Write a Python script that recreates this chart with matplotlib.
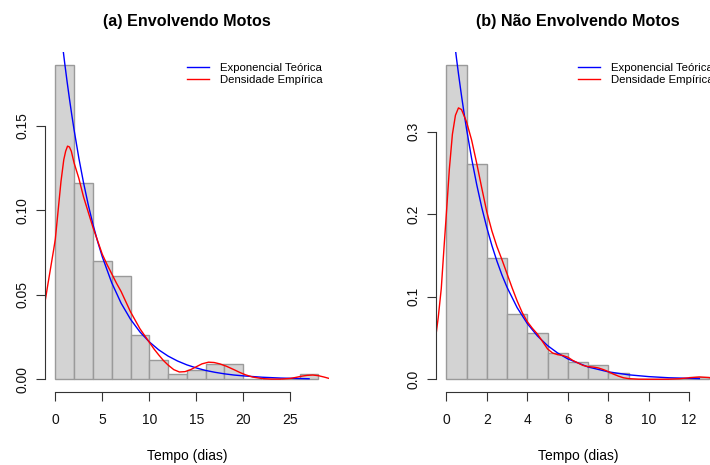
#!/usr/bin/env python3
"""
plot.py
=======

Histogramas do tempo (dias) com a exponencial teorica e a densidade
empirica sobrepostas, em dois paineis no estilo dos graficos base do R.

OUTPUT:
    out.png
"""

import numpy as np
import matplotlib
matplotlib.use('Agg')
import matplotlib.pyplot as plt

plt.rcParams.update({
    'font.family': ['Liberation Sans', 'DejaVu Sans'],
    'font.size': 10,
    'axes.linewidth': 0.8,
    'axes.edgecolor': '#333333',
    'xtick.color': '#333333',
    'ytick.color': '#333333',
    'xtick.labelcolor': '#111111',
    'ytick.labelcolor': '#111111',
})

COLOR_HIST = '#D3D3D3'
COLOR_EDGE = '#9A9A9A'
COLOR_EXP = '#0000FF'
COLOR_KDE = '#FF0000'

# ---- (a) Envolvendo Motos ------------------------------------------------
edges_a = np.arange(0, 30, 2)
dens_a = [0.186, 0.116, 0.070, 0.061, 0.026, 0.0117, 0.0031, 0.0057,
          0.0089, 0.0089, 0.0, 0.0, 0.0, 0.0031]

exp_a_x = [0.6, 0.8, 1.0, 1.25, 1.5, 1.75, 2.0, 2.5, 3.0, 3.5, 4.0, 4.5,
           5.0, 6.0, 7.0, 8.0, 9.0, 10.0, 11.0, 12.0, 13.0, 14.0, 15.0,
           16.0, 17.0, 18.0, 19.0, 20.0, 22.0, 24.0, 27.0]
exp_a_y = [0.2056, 0.1961, 0.1870, 0.1762, 0.1661, 0.1565, 0.1475, 0.1310,
           0.1164, 0.1034, 0.0918, 0.0816, 0.0725, 0.0572, 0.0451, 0.0356,
           0.0281, 0.0222, 0.0175, 0.0138, 0.0109, 0.0086, 0.0068, 0.0053,
           0.0042, 0.0033, 0.0026, 0.0021, 0.0013, 0.0008, 0.0004]

kde_a_x = [-1.12, -0.8, -0.5, -0.2, 0.0, 0.3, 0.6, 0.9, 1.1, 1.3, 1.5, 1.7,
           2.0, 2.5, 3.0, 3.5, 4.0, 4.5, 5.0, 5.5, 6.0, 6.5, 7.0, 7.5, 8.0,
           8.5, 9.0, 9.5, 10.0, 10.5, 11.0, 11.5, 12.0, 12.6, 13.2, 13.8,
           14.4, 15.0, 15.6, 16.3, 16.9, 17.5, 18.2, 19.0, 19.6, 20.2, 21.0,
           22.0, 23.0, 24.0, 25.0, 25.6, 26.2, 26.8, 27.4, 28.0, 28.6, 29.12]
kde_a_y = [0.045, 0.056, 0.066, 0.076, 0.083, 0.100, 0.117, 0.130, 0.135,
           0.138, 0.1375, 0.135, 0.128, 0.119, 0.108, 0.099, 0.090, 0.082,
           0.074, 0.068, 0.0625, 0.057, 0.052, 0.046, 0.040, 0.035, 0.030,
           0.026, 0.022, 0.018, 0.0145, 0.0112, 0.0085, 0.0058, 0.0044,
           0.0046, 0.0058, 0.0075, 0.0092, 0.0102, 0.0100, 0.0092, 0.0078,
           0.0058, 0.0042, 0.0028, 0.0014, 0.0005, 0.0002, 0.0002, 0.0006,
           0.0012, 0.0019, 0.0024, 0.0026, 0.0022, 0.0014, 0.0006]

xticks_a = [0, 5, 10, 15, 20, 25]
yticks_a = [0.00, 0.05, 0.10, 0.15]
ylabels_a = ['0.00', '0.05', '0.10', '0.15']

# ---- (b) Nao Envolvendo Motos --------------------------------------------
edges_b = np.arange(0, 14, 1)
dens_b = [0.381, 0.2615, 0.1466, 0.0798, 0.0559, 0.0324, 0.0215, 0.0170,
          0.0081, 0.0, 0.0, 0.0, 0.0032]

exp_b_x = [0.4, 0.5, 0.6, 0.75, 0.9, 1.0, 1.25, 1.5, 1.75, 2.0, 2.25, 2.5,
           2.75, 3.0, 3.5, 4.0, 4.5, 5.0, 5.5, 6.0, 7.0, 8.0, 9.0, 10.0,
           11.0, 12.5]
exp_b_y = [0.4094, 0.3894, 0.3704, 0.3437, 0.3188, 0.3033, 0.2676, 0.2362,
           0.2084, 0.1839, 0.1623, 0.1433, 0.1264, 0.1116, 0.0869, 0.0677,
           0.0527, 0.0410, 0.0320, 0.0249, 0.0151, 0.0092, 0.0056, 0.0034,
           0.0020, 0.0010]

kde_b_x = [-0.52, -0.4, -0.25, -0.1, 0.0, 0.15, 0.3, 0.45, 0.6, 0.75, 0.9,
           1.0, 1.25, 1.5, 1.75, 2.0, 2.25, 2.5, 2.75, 3.0, 3.25, 3.5, 3.75,
           4.0, 4.25, 4.5, 4.75, 5.0, 5.25, 5.5, 5.75, 6.0, 6.25, 6.5, 6.75,
           7.0, 7.25, 7.5, 7.75, 8.0, 8.25, 8.5, 8.75, 9.0, 9.5, 10.0, 10.5,
           11.0, 11.5, 12.0, 12.5, 13.0, 13.52]
kde_b_y = [0.052, 0.075, 0.11, 0.165, 0.2, 0.255, 0.297, 0.32, 0.329, 0.327,
           0.318, 0.312, 0.290, 0.262, 0.232, 0.203, 0.180, 0.161, 0.145,
           0.128, 0.111, 0.095, 0.081, 0.070, 0.062, 0.055, 0.046, 0.037,
           0.032, 0.030, 0.029, 0.027, 0.023, 0.020, 0.017, 0.0155, 0.0150,
           0.0140, 0.012, 0.0095, 0.0065, 0.004, 0.002, 0.001, 0.0003,
           0.0002, 0.0002, 0.0003, 0.0008, 0.0020, 0.0030, 0.0022, 0.0008]

xticks_b = [0, 2, 4, 6, 8, 10, 12]
yticks_b = [0.0, 0.1, 0.2, 0.3]
ylabels_b = ['0.0', '0.1', '0.2', '0.3']

legend_labels = ['Exponencial Teórica', 'Densidade Empírica']
xlabel = 'Tempo (dias)'
titles = ['(a) Envolvendo Motos', '(b) Não Envolvendo Motos']


def r_hist_panel(ax, edges, dens, exp_x, exp_y, kde_x, kde_y,
                 xticks, yticks, ylabels, title):
    """Draw one panel the way R's hist() + curve() + lines() would."""
    width = edges[1] - edges[0]
    ax.bar(edges[:-1], dens, width=width, align='edge',
           color=COLOR_HIST, edgecolor=COLOR_EDGE, linewidth=1.0)
    ax.plot(exp_x, exp_y, color=COLOR_EXP, linewidth=1.0,
            label=legend_labels[0])
    ax.plot(kde_x, kde_y, color=COLOR_KDE, linewidth=1.0,
            label=legend_labels[1])

    # R pads the data range by 4% on each side
    xr = edges[-1] - edges[0]
    ax.set_xlim(edges[0] - 0.04 * xr, edges[-1] + 0.04 * xr)
    ymax = max(dens)
    ax.set_ylim(-0.04 * ymax, 1.04 * ymax)

    ax.set_xticks(xticks)
    ax.set_yticks(yticks)
    ax.set_yticklabels(ylabels, rotation=90, va='center')
    ax.tick_params(axis='both', direction='out', length=6.3, width=0.8)
    ax.tick_params(axis='x', pad=8.5)
    ax.tick_params(axis='y', pad=5)

    for side in ('top', 'right'):
        ax.spines[side].set_visible(False)
    ax.spines['bottom'].set_bounds(xticks[0], xticks[-1])
    ax.spines['left'].set_bounds(yticks[0], yticks[-1])

    ax.set_xlabel(xlabel, labelpad=16)
    ax.set_title(title, fontsize=11.6, fontweight='bold', pad=19)
    ax.legend(loc='upper right', bbox_to_anchor=(1.0, 0.987), frameon=False,
              fontsize=8.2, handlelength=1.95, handletextpad=0.95,
              labelspacing=0.2, borderaxespad=0.0, borderpad=0.55)


fig = plt.figure(figsize=(7.10, 4.65), dpi=100)

# Plot regions in pixels (the right panel runs past the image edge)
W, H = 710.0, 465.0
ax_a = fig.add_axes([44.8 / W, 73.0 / H, 284.2 / W, 339.6 / H])
ax_b = fig.add_axes([435.8 / W, 73.0 / H, 284.2 / W, 339.6 / H])

r_hist_panel(ax_a, edges_a, dens_a, exp_a_x, exp_a_y, kde_a_x, kde_a_y,
             xticks_a, yticks_a, ylabels_a, titles[0])
r_hist_panel(ax_b, edges_b, dens_b, exp_b_x, exp_b_y, kde_b_x, kde_b_y,
             xticks_b, yticks_b, ylabels_b, titles[1])

fig.savefig('out.png', dpi=100, facecolor='white')
plt.close(fig)
